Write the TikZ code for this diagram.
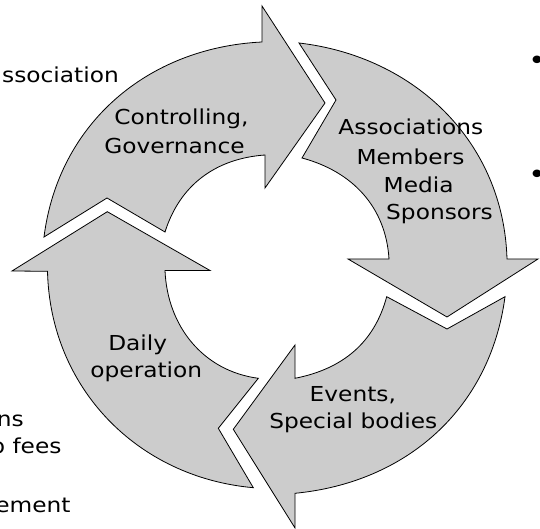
\documentclass[tikz,border=0pt]{standalone}
\usepackage{fontspec}
\setmainfont[FakeStretch=1.13]{DejaVu Sans}
\usepackage{tikz}
\usepackage{color}
\usetikzlibrary{positioning,calc}
\definecolor{arrowgray}{RGB}{204,204,204}

\begin{document}
\begin{tikzpicture}[x=1pt, y=1pt,
        cyclearrow/.style={fill=arrowgray, draw=black, line width=0.8pt, line join=miter},
        lbl/.style={font=\fontsize{20.6}{24}\selectfont, inner sep=0pt, anchor=base},
        side/.style={font=\fontsize{20.6}{24}\selectfont, inner sep=0pt, anchor=base east},
        dot/.style={font=\fontsize{26}{28}\selectfont, inner sep=0pt}]
    \useasboundingbox (0,0) rectangle (540,529);

    \draw[cyclearrow] (44,292) to[out=82.8,in=182.8] (262,487) -- (262,523) -- (325,426)
        -- (265,341) -- (265,374) to[out=184.1,in=72.5] (165,297) -- (107,331) -- cycle;
    \draw[cyclearrow] (299,486) to[out=-6.65,in=91.7] (507,270) -- (538,270) -- (447,212)
        -- (348,270) -- (389,270) to[out=93.5,in=-15] (302,371) -- (336,429) -- cycle;
    \draw[cyclearrow] (505,232.3) to[out=-97.5,in=5.5] (295,35.7) -- (295,1) -- (233.3,99.7)
        -- (295,184) -- (295,150.7) to[out=11.1,in=-105.1] (386.7,232.3) -- (447,200) -- cycle;
    \draw[cyclearrow] (253.3,41.3) to[out=174.9,in=271.35] (47.5,257.7) -- (12,258) -- (107.3,317.3)
        -- (210,258.5) -- (165,258.5) to[out=272.4,in=172.5] (258.3,150.7) -- (218.3,100.7) -- cycle;

    \node[lbl] (ctrlA) at (181.5,404) {Controlling,};
    \node[lbl] (ctrlB) at (174.5,375.7) {Governance};
    \node[lbl] (assocA) at (410.8,394) {Associations};
    \node[lbl] (assocB) at (410.5,364) {Members};
    \node[lbl] (assocC) at (418.7,336.3) {Media};
    \node[lbl] (assocD) at (439.5,309) {Sponsors};
    \node[lbl] (dailyA) at (137.7,178.3) {Daily};
    \node[lbl] (dailyB) at (146.3,151.7) {operation};
    \node[lbl] (eventsA) at (352.8,127.3) {Events,};
    \node[lbl] (eventsB) at (353.3,100.7) {Special bodies};

    \node[side] (assocL) at (119,446.7) {association};
    \node[side] (nsL) at (24,102.3) {ns};
    \node[side] (feesL) at (61.7,75.7) {p fees};
    \node[side] (mgmtL) at (70.7,16.3) {ement};

    \node[dot] (bulletA) at (537,465.7) {•};
    \node[dot] (bulletB) at (537,352.3) {•};
\end{tikzpicture}
\end{document}
